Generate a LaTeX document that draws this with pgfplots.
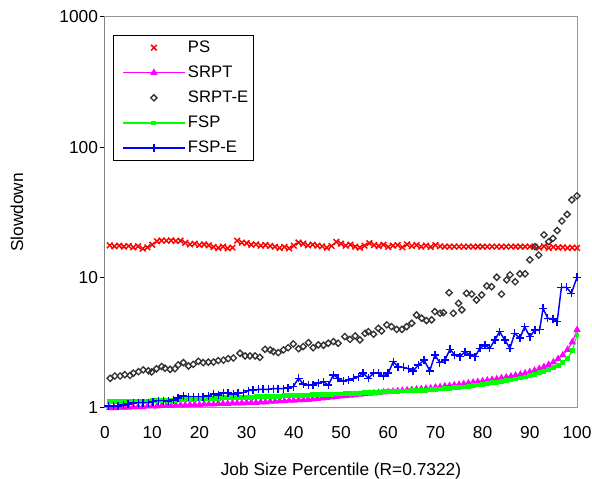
\documentclass[border=0pt]{standalone}
\usepackage{fontspec}
\setmainfont{Liberation Sans}
\usepackage{pgfplots}
\pgfplotsset{compat=1.18}
\definecolor{psred}{RGB}{255,0,0}
\definecolor{srptmag}{RGB}{255,0,255}
\definecolor{srpteblk}{RGB}{51,51,51}
\definecolor{fspgreen}{RGB}{0,255,0}
\definecolor{fspeblue}{RGB}{0,0,255}
\definecolor{framegray}{RGB}{150,150,150}
\begin{document}
\begin{tikzpicture}
\begin{axis}[name=ax, scale only axis, width=354pt, height=293.25pt,
  xmin=0, xmax=100, ymode=log, ymin=1, ymax=1000,
  xtick={0,10,...,100}, ytick={1,10,100,1000}, yticklabels={1,10,100,1000},
  yminorticks=false,
  /pgf/number format/assume math mode=true,
  tick label style={font=\fontsize{13}{15}\selectfont},
  xticklabel style={yshift=-10.2pt},
  yticklabel style={xshift=2pt},
  axis line style={framegray, line width=0.75pt},
  xtick style={draw=none},
  ytick pos=left, ytick align=outside,
  ytick style={black, line width=0.75pt},
  major tick length=3.75pt,
  xlabel={Job Size Percentile (R=0.7322)},
  ylabel={Slowdown},
  every axis x label/.style={at={([yshift=-51pt]rel axis cs:0.5,0)}, anchor=base, font=\fontsize{13}{15}\selectfont},
  every axis y label/.style={at={([xshift=-66pt]rel axis cs:0,0.5)}, anchor=center, rotate=90, font=\fontsize{13}{15}\selectfont},
  legend style={at={(rel axis cs:0.0163,0.954)}, anchor=north west, draw=black, line width=0.75pt,
    font=\fontsize{12.5}{15}\selectfont, row sep=4.6pt, inner sep=2pt, fill=white},
  legend cell align=left,
  legend image code/.code={\path (0pt,0pt); \draw[mark repeat=2,mark phase=2] plot coordinates {(5pt,0pt) (28pt,0pt) (51pt,0pt)};},
]
\addplot[only marks, mark=x, mark size=3pt, color=psred, line width=1.1pt] coordinates {
(1,17.7)(2,17.4)(3,17.6)(4,17.3)(5,17.5)(6,17.1)(7,17.4)(8,16.7)(9,17.1)(10,17.9)
(11,19.0)(12,19.3)(13,19.2)(14,19.3)(15,19.1)(16,19.2)(17,18.5)(18,18.0)(19,18.2)(20,17.8)
(21,18.0)(22,17.7)(23,17.2)(24,16.9)(25,17.3)(26,16.8)(27,17.0)(28,19.2)(29,18.6)(30,18.4)
(31,17.9)(32,18.0)(33,17.6)(34,17.8)(35,17.5)(36,17.3)(37,16.9)(38,17.2)(39,16.8)(40,17.6)
(41,18.6)(42,18.2)(43,17.7)(44,17.9)(45,17.6)(46,17.4)(47,17.0)(48,17.5)(49,18.8)(50,18.2)
(51,17.6)(52,17.9)(53,17.3)(54,17.0)(55,17.6)(56,18.4)(57,17.8)(58,17.5)(59,17.9)(60,17.2)
(61,17.6)(62,17.8)(63,17.1)(64,18.0)(65,17.5)(66,17.8)(67,17.3)(68,17.6)(69,17.2)(70,17.8)
(71,17.4)(72,17.3)(73,17.3)(74,17.3)(75,17.3)(76,17.3)(77,17.3)(78,17.3)(79,17.3)(80,17.3)
(81,17.3)(82,17.3)(83,17.3)(84,17.3)(85,17.3)(86,17.3)(87,17.3)(88,17.3)(89,17.3)(90,17.3)
(91,17.3)(92,17.0)(93,17.4)(94,16.9)(95,17.2)(96,17.0)(97,17.1)(98,16.9)(99,17.0)(100,16.9)
};
\addlegendentry{PS}
\addplot[color=srptmag, line width=0.85pt, mark=triangle*, mark size=2.4pt] coordinates {
(1,1.00)(2,1.00)(3,1.01)(4,1.01)(5,1.01)(6,1.02)(7,1.02)(8,1.02)(9,1.03)(10,1.03)
(11,1.03)(12,1.04)(13,1.04)(14,1.04)(15,1.05)(16,1.05)(17,1.05)(18,1.06)(19,1.06)(20,1.06)
(21,1.07)(22,1.07)(23,1.07)(24,1.08)(25,1.08)(26,1.08)(27,1.09)(28,1.09)(29,1.09)(30,1.10)
(31,1.10)(32,1.10)(33,1.11)(34,1.11)(35,1.12)(36,1.12)(37,1.13)(38,1.13)(39,1.14)(40,1.14)
(41,1.15)(42,1.15)(43,1.16)(44,1.17)(45,1.18)(46,1.19)(47,1.20)(48,1.21)(49,1.22)(50,1.23)
(51,1.24)(52,1.25)(53,1.26)(54,1.27)(55,1.28)(56,1.29)(57,1.30)(58,1.31)(59,1.32)(60,1.33)
(61,1.34)(62,1.35)(63,1.36)(64,1.37)(65,1.38)(66,1.39)(67,1.40)(68,1.41)(69,1.42)(70,1.44)
(71,1.45)(72,1.47)(73,1.48)(74,1.50)(75,1.51)(76,1.53)(77,1.55)(78,1.57)(79,1.59)(80,1.61)
(81,1.63)(82,1.65)(83,1.67)(84,1.70)(85,1.72)(86,1.75)(87,1.78)(88,1.81)(89,1.85)(90,1.89)
(91,1.94)(92,2.00)(93,2.07)(94,2.15)(95,2.25)(96,2.38)(97,2.55)(98,2.80)(99,3.20)(100,3.97)
};
\addlegendentry{SRPT}
\addplot[only marks, mark=square, mark size=1.65pt, color=srpteblk, line width=1pt, mark options={rotate=45}] coordinates {
(1.1,1.69)(2.1,1.76)(3.2,1.76)(4.2,1.80)(5.3,1.78)(6.0,1.85)(7.1,1.90)(8.1,1.96)(9.2,1.93)(9.9,1.89)
(10.9,2.00)(12.0,2.08)(12.7,2.02)(13.8,1.98)(14.8,2.00)(15.5,2.14)(16.6,2.23)(17.7,2.10)(18.7,2.16)(19.8,2.28)
(20.8,2.23)(21.9,2.25)(23.0,2.25)(24.0,2.31)(25.1,2.33)(26.1,2.39)(27.2,2.42)(28.6,2.63)(29.7,2.51)(30.7,2.51)
(31.8,2.51)(32.8,2.45)(33.9,2.82)(35.0,2.79)(35.7,2.71)(36.7,2.66)(37.8,2.79)(38.8,2.90)(39.9,3.10)(41.0,2.85)
(42.0,2.96)(43.1,3.17)(44.1,2.90)(45.2,3.05)(46.3,3.03)(47.3,3.14)(48.4,3.23)(49.4,3.14)(50.8,3.53)(51.9,3.36)
(53.0,3.57)(54.0,3.33)(55.1,3.74)(55.8,3.85)(56.9,3.68)(57.9,4.09)(58.6,3.90)(59.7,4.34)(60.7,4.21)(61.8,4.01)
(62.9,4.01)(63.9,4.21)(65.0,4.47)(66.0,5.17)(67.1,4.88)(68.1,4.69)(69.2,4.74)(69.9,5.49)(71.0,5.33)(71.7,5.39)
(72.9,7.67)(73.8,5.33)(74.9,6.36)(75.6,5.66)(76.6,7.58)(77.7,7.48)(78.7,6.74)(79.8,7.37)(80.9,8.64)(81.9,8.52)
(83.0,10.07)(84.0,7.48)(85.1,9.61)(85.8,10.5)(86.9,9.30)(87.9,10.7)(89.0,10.7)(90.0,13.7)(91.1,17.3)(91.9,14.9)
(93.0,21.3)(94.0,18.9)(94.9,20.0)(95.8,23.0)(96.8,27.2)(97.9,30.6)(98.9,39.5)(100,42.4)
};
\addlegendentry{SRPT-E}
\addplot[color=fspgreen, line width=0.85pt, mark=square*, mark size=1.4pt] coordinates {
(1,1.12)(2,1.12)(3,1.12)(4,1.12)(5,1.12)(6,1.13)(7,1.13)(8,1.13)(9,1.13)(10,1.14)
(11,1.14)(12,1.14)(13,1.15)(14,1.15)(15,1.15)(16,1.16)(17,1.16)(18,1.17)(19,1.17)(20,1.18)
(21,1.18)(22,1.18)(23,1.19)(24,1.19)(25,1.20)(26,1.20)(27,1.20)(28,1.21)(29,1.21)(30,1.21)
(31,1.21)(32,1.22)(33,1.22)(34,1.22)(35,1.23)(36,1.23)(37,1.23)(38,1.24)(39,1.24)(40,1.24)
(41,1.25)(42,1.25)(43,1.25)(44,1.26)(45,1.26)(46,1.26)(47,1.27)(48,1.27)(49,1.28)(50,1.28)
(51,1.29)(52,1.29)(53,1.30)(54,1.30)(55,1.31)(56,1.31)(57,1.32)(58,1.32)(59,1.33)(60,1.33)
(61,1.34)(62,1.34)(63,1.35)(64,1.35)(65,1.36)(66,1.36)(67,1.37)(68,1.37)(69,1.38)(70,1.39)
(71,1.40)(72,1.41)(73,1.42)(74,1.43)(75,1.44)(76,1.45)(77,1.47)(78,1.48)(79,1.50)(80,1.52)
(81,1.54)(82,1.56)(83,1.58)(84,1.60)(85,1.62)(86,1.64)(87,1.67)(88,1.70)(89,1.73)(90,1.77)
(91,1.81)(92,1.86)(93,1.91)(94,1.97)(95,2.04)(96,2.13)(97,2.25)(98,2.40)(99,2.75)(100,3.63)
};
\addlegendentry{FSP}
\addplot[color=fspeblue, line width=1.1pt, mark=+, mark size=3pt] coordinates {
(0.7,1.04)(1.8,1.04)(2.8,1.04)(3.9,1.05)(4.9,1.07)(6.0,1.09)(7.1,1.10)(8.1,1.10)(9.2,1.10)(10.2,1.12)
(11.3,1.14)(12.4,1.14)(13.4,1.13)(14.5,1.15)(15.5,1.19)(16.6,1.24)(17.7,1.22)(18.7,1.22)(19.8,1.22)(20.8,1.22)
(21.9,1.24)(23.0,1.28)(24.0,1.26)(25.1,1.30)(26.1,1.30)(27.2,1.28)(28.2,1.30)(29.3,1.31)(30.4,1.36)(31.4,1.37)
(32.5,1.39)(33.5,1.39)(34.6,1.39)(35.7,1.41)(36.7,1.41)(37.8,1.41)(38.8,1.42)(39.9,1.46)(41.0,1.69)(42.0,1.53)
(43.1,1.50)(44.1,1.50)(45.2,1.55)(46.3,1.59)(47.3,1.50)(48.4,1.79)(49.4,1.69)(50.5,1.61)(51.6,1.64)(52.6,1.69)
(53.7,1.74)(54.7,1.85)(55.8,1.69)(56.9,1.85)(57.9,1.85)(59.0,1.76)(60.0,1.85)(61.1,2.27)(62.1,2.07)(63.2,2.05)
(64.3,2.00)(65.3,1.93)(66.4,2.14)(67.6,2.33)(68.8,1.93)(69.9,2.55)(70.9,2.23)(72.0,2.33)(73.1,2.82)(74.1,2.55)
(75.2,2.48)(76.3,2.71)(77.3,2.55)(78.4,2.48)(79.4,2.87)(80.5,3.04)(81.5,2.87)(82.6,3.33)(83.6,3.85)(84.7,3.33)
(85.8,2.87)(86.8,3.74)(87.9,3.43)(88.9,4.21)(90.0,3.53)(91.1,3.97)(92.1,4.00)(92.8,5.82)(93.8,4.88)(94.9,4.82)
(95.8,4.60)(96.7,8.43)(97.8,8.43)(98.8,7.58)(100,10.07)
};
\addlegendentry{FSP-E}
\draw[black, line width=0.75pt] (rel axis cs:0,0) -- (rel axis cs:0,1);
\end{axis}
\pgfresetboundingbox
\path ([xshift=-78.75pt,yshift=-53.25pt]ax.south west) rectangle ([xshift=11.25pt,yshift=12.75pt]ax.north east);
\end{tikzpicture}
\end{document}
